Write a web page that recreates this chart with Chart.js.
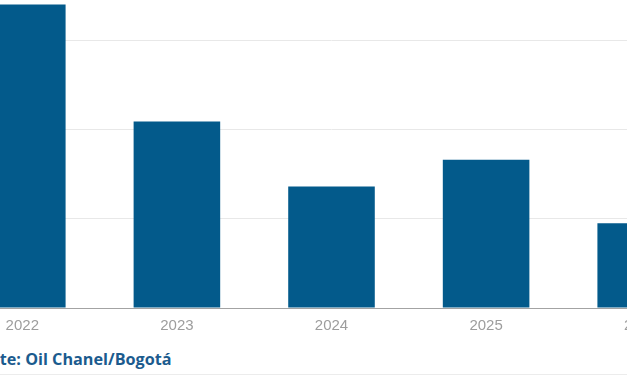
<!DOCTYPE html>
<html lang="es">
<head>
  <meta charset="UTF-8">
  <title>Oil Chanel</title>
  <script src="https://cdn.jsdelivr.net/npm/chart.js"></script>
  <style>
    html, body {
      margin: 0;
      padding: 0;
      background: #fff;
      overflow: hidden;
    }
    #frame {
      position: relative;
      width: 627px;
      height: 376px;
      overflow: hidden;
    }
    #plot {
      position: absolute;
      left: -55px;
      top: -49px;
      width: 773px;
      height: 385px;
    }
    #source {
      position: absolute;
      top: 348px;
      left: 0;
      font-family: "Open Sans", sans-serif;
      font-weight: bold;
      font-size: 16.2px;
      color: #1b5b8e;
      white-space: nowrap;
    }
    #rule {
      position: absolute;
      left: 0;
      right: 0;
      top: 374px;
      border-top: 1px solid #ececec;
    }
  </style>
</head>
<body>
  <div id="frame">
    <div id="plot"><canvas id="chart"></canvas></div>
    <div id="source"><span id="cut">Fuen</span>te: Oil Chanel/Bogotá</div>
    <div id="rule"></div>
  </div>

  <script>
    const years = ['2022', '2023', '2024', '2025', '2026'];
    const values = [3.40, 2.09, 1.36, 1.66, 0.95];
    const yTicks = [0, 1, 2, 3, 4];

    // the source line is cut at the left edge, as in the picture
    const src = document.getElementById('source');
    src.style.left = -document.getElementById('cut').offsetWidth + 'px';

    new Chart(document.getElementById('chart'), {
      type: 'bar',
      data: {
        labels: years,
        datasets: [{
          data: values,
          backgroundColor: '#035a8b',
          barPercentage: 0.56,
          categoryPercentage: 1
        }]
      },
      options: {
        responsive: true,
        maintainAspectRatio: false,
        animation: false,
        layout: { padding: 0 },
        plugins: { legend: { display: false }, tooltip: { enabled: false } },
        scales: {
          x: {
            grid: { display: false },
            border: { display: true, color: '#a3a3a3', width: 1 },
            ticks: {
              color: '#9d9d9d',
              padding: 1,
              font: { family: 'Liberation Sans, Arial, sans-serif', size: 15 }
            }
          },
          y: {
            min: yTicks[0],
            max: yTicks[yTicks.length - 1],
            afterBuildTicks: s => { s.ticks = yTicks.map(v => ({ value: v })); },
            grid: { color: '#e8e8e8', drawTicks: false },
            border: { display: false },
            ticks: { display: false }
          }
        }
      }
    });
  </script>
</body>
</html>
